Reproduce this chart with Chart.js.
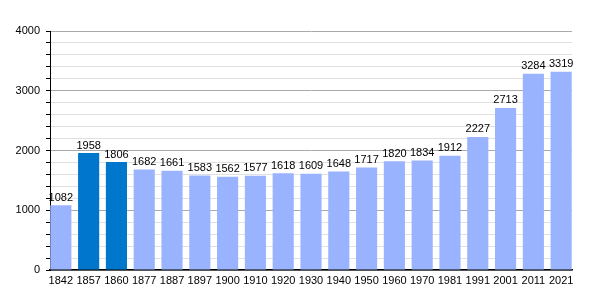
<!DOCTYPE html>
<html>
<head>
<meta charset="utf-8">
<script src="https://cdn.jsdelivr.net/npm/chart.js@4"></script>
<style>
  body { margin: 0; background: #fff; }
  #wrap { width: 600px; height: 300px; }
</style>
</head>
<body>
<div id="wrap"><canvas id="popChart"></canvas></div>
<script>
const years = ['1842', '1857', '1860', '1877', '1887', '1897', '1900', '1910', '1920', '1930',
  '1940', '1950', '1960', '1970', '1981', '1991', '2001', '2011', '2021'];
const population = [1082, 1958, 1806, 1682, 1661, 1583, 1562, 1577, 1618, 1609,
  1648, 1717, 1820, 1834, 1912, 2227, 2713, 3284, 3319];
const highlighted = ['1857', '1860'];
const yMax = 4000;

// valeurs au-dessus des barres
const valueLabels = {
  id: 'valueLabels',
  afterDatasetsDraw(chart) {
    const ctx = chart.ctx;
    const meta = chart.getDatasetMeta(0);
    ctx.save();
    ctx.font = '11px "Liberation Sans", Arial, sans-serif';
    ctx.fillStyle = '#000';
    ctx.textAlign = 'center';
    ctx.textBaseline = 'bottom';
    meta.data.forEach((bar, i) => {
      ctx.fillText(population[i], bar.x, bar.y - 2);
    });
    ctx.restore();
  }
};

// axe x linéaire pour coller les barres aux bords
const edge = 0.39;

new Chart(document.getElementById('popChart').getContext('2d'), {
  type: 'bar',
  data: {
    datasets: [{
      data: population.map((p, i) => ({ x: i, y: p })),
      backgroundColor: years.map(y => highlighted.includes(y) ? '#0077cc' : '#99b3ff'),
      barPercentage: 0.76,
      categoryPercentage: 1
    }]
  },
  options: {
    responsive: true,
    maintainAspectRatio: false,
    animation: false,
    layout: { padding: { top: 31, right: 28, left: 0, bottom: 0 } },
    plugins: { legend: { display: false }, tooltip: { enabled: false } },
    scales: {
      x: {
        type: 'linear',
        offset: false,
        min: -edge,
        max: years.length - 1 + edge,
        afterFit(scale) { scale.height = 30; },
        afterBuildTicks(scale) {
          scale.ticks = years.map((y, i) => ({ value: i }));
        },
        grid: { display: false, drawTicks: false },
        border: { color: '#000', width: 1.5 },
        ticks: {
          color: '#000',
          padding: 4,
          maxRotation: 0,
          autoSkip: false,
          font: { family: '"Liberation Sans", Arial, sans-serif', size: 11 },
          callback: v => years[v]
        }
      },
      y: {
        min: 0,
        max: yMax,
        afterFit(scale) { scale.width = 50; },
        border: { color: '#000', width: 1 },
        grid: {
          color: c => (c.tick && c.tick.value % 1000 === 0) ? '#aaaaaa' : '#e0e0e0',
          tickColor: '#000',
          tickLength: 4
        },
        ticks: {
          stepSize: 200,
          color: '#000',
          padding: 6,
          autoSkip: false,
          font: { family: '"Liberation Sans", Arial, sans-serif', size: 11 },
          callback: v => v % 1000 === 0 ? v : ''
        }
      }
    }
  },
  plugins: [valueLabels]
});
</script>
</body>
</html>
